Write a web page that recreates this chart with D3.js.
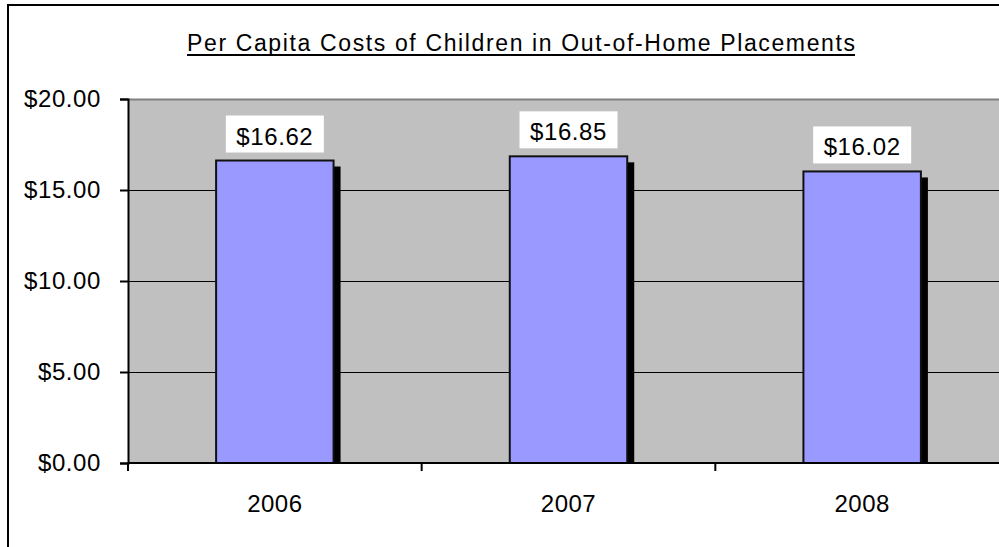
<!DOCTYPE html>
<html>
<head>
<meta charset="utf-8">
<script src="https://cdn.jsdelivr.net/npm/d3@7/dist/d3.min.js"></script>
<style>
  html, body { margin: 0; padding: 0; background: #fff; }
  svg { display: block; font-family: "Liberation Sans", Arial, sans-serif; }
</style>
</head>
<body>
<svg id="chart" width="999" height="547"></svg>
<script>
// Chart data
const years = ["2006", "2007", "2008"];
const perCapitaCost = [16.62, 16.85, 16.02];
const yTicks = [0, 5, 10, 15, 20];
const chartTitle = "Per Capita Costs of Children in Out-of-Home Placements";

const svg = d3.select("#chart");
const W = 999, H = 547;

// Plot area (runs past the right edge of the window)
const plot = { left: 128, top: 99, right: 1009, bottom: 463 };

const x = d3.scaleBand()
  .domain(years)
  .range([plot.left, plot.right])
  .paddingInner(0.6)
  .paddingOuter(0.3);

const y = d3.scaleLinear()
  .domain([0, 20])
  .range([plot.bottom, plot.top]);

const fmt = d => "$" + d3.format(".2f")(d);

// Outer chart frame
svg.append("rect")
  .attr("x", 8).attr("y", 5)
  .attr("width", W + 20).attr("height", H + 20)
  .attr("fill", "#fff")
  .attr("stroke", "#000").attr("stroke-width", 2);

// Title
svg.append("text")
  .attr("x", 521).attr("y", 51)
  .attr("text-anchor", "middle")
  .attr("font-size", 23)
  .attr("fill", "#000")
  .attr("textLength", 668)
  .attr("lengthAdjust", "spacing")
  .text(chartTitle);
svg.append("line")
  .attr("x1", 187).attr("x2", 855)
  .attr("y1", 55).attr("y2", 55)
  .attr("stroke", "#000").attr("stroke-width", 2);

// Plot background
svg.append("rect")
  .attr("x", plot.left).attr("y", plot.top)
  .attr("width", plot.right - plot.left).attr("height", plot.bottom - plot.top)
  .attr("fill", "#c0c0c0");
svg.append("line")
  .attr("x1", plot.left).attr("x2", plot.right)
  .attr("y1", plot.top + 0.5).attr("y2", plot.top + 0.5)
  .attr("stroke", "#808080").attr("stroke-width", 2);

// Gridlines
svg.append("g")
  .selectAll("line")
  .data(yTicks.filter(t => t > 0 && t < 20))
  .join("line")
  .attr("x1", plot.left).attr("x2", plot.right)
  .attr("y1", d => Math.round(y(d)) + 0.5).attr("y2", d => Math.round(y(d)) + 0.5)
  .attr("stroke", "#000").attr("stroke-width", 1);

// Clip so bar shadows stay inside the plot
svg.append("clipPath").attr("id", "plotClip")
  .append("rect")
  .attr("x", plot.left).attr("y", plot.top)
  .attr("width", plot.right - plot.left).attr("height", plot.bottom - plot.top);

const bars = svg.append("g").attr("clip-path", "url(#plotClip)");

// Drop shadows
bars.selectAll("rect.shadow")
  .data(years)
  .join("rect")
  .attr("class", "shadow")
  .attr("x", d => x(d) + 7)
  .attr("y", (d, i) => y(perCapitaCost[i]) + 6)
  .attr("width", x.bandwidth())
  .attr("height", (d, i) => plot.bottom - y(perCapitaCost[i]))
  .attr("fill", "#000");

// Bars
bars.selectAll("rect.bar")
  .data(years)
  .join("rect")
  .attr("class", "bar")
  .attr("x", d => x(d))
  .attr("y", (d, i) => y(perCapitaCost[i]))
  .attr("width", x.bandwidth())
  .attr("height", (d, i) => plot.bottom - y(perCapitaCost[i]) + 2)
  .attr("fill", "#9999ff")
  .attr("stroke", "#111").attr("stroke-width", 2);

// Y axis
const yAxis = d3.axisLeft(y).tickValues(yTicks).tickFormat(fmt).tickSize(8).tickPadding(19);
const gy = svg.append("g").attr("transform", `translate(${plot.left},0)`).call(yAxis);
gy.select(".domain").attr("stroke", "#000").attr("stroke-width", 2);
gy.selectAll(".tick line").attr("stroke", "#000").attr("stroke-width", 2);
gy.selectAll(".tick text")
  .attr("font-size", 24).attr("fill", "#000")
  .attr("letter-spacing", 0.6)
  .attr("font-family", "Liberation Sans, Arial, sans-serif");

// X axis with boundary ticks between categories
const xAxisG = svg.append("g");
xAxisG.append("line")
  .attr("x1", plot.left).attr("x2", plot.right)
  .attr("y1", plot.bottom).attr("y2", plot.bottom)
  .attr("stroke", "#000").attr("stroke-width", 2);
const step = x.step();
const boundaries = d3.range(years.length + 1).map(i => x(years[0]) - x.paddingOuter() * step + i * step);
xAxisG.selectAll("line.tk")
  .data(boundaries)
  .join("line")
  .attr("class", "tk")
  .attr("x1", d => d).attr("x2", d => d)
  .attr("y1", plot.bottom).attr("y2", plot.bottom + 8)
  .attr("stroke", "#000").attr("stroke-width", 2);
xAxisG.selectAll("text")
  .data(years)
  .join("text")
  .attr("x", d => x(d) + x.bandwidth() / 2)
  .attr("y", 512)
  .attr("text-anchor", "middle")
  .attr("font-size", 24)
  .attr("letter-spacing", 0.5)
  .attr("fill", "#000")
  .text(d => d);

// Value labels in white boxes
const labels = svg.append("g");
years.forEach((yr, i) => {
  const cx = x(yr) + x.bandwidth() / 2;
  const bottom = y(perCapitaCost[i]) - 8;
  labels.append("rect")
    .attr("x", cx - 49).attr("y", bottom - 37)
    .attr("width", 98).attr("height", 37)
    .attr("fill", "#fff");
  labels.append("text")
    .attr("x", cx).attr("y", bottom - 8)
    .attr("text-anchor", "middle")
    .attr("font-size", 24)
    .attr("letter-spacing", 0.6)
    .attr("fill", "#000")
    .text(fmt(perCapitaCost[i]));
});
</script>
</body>
</html>
